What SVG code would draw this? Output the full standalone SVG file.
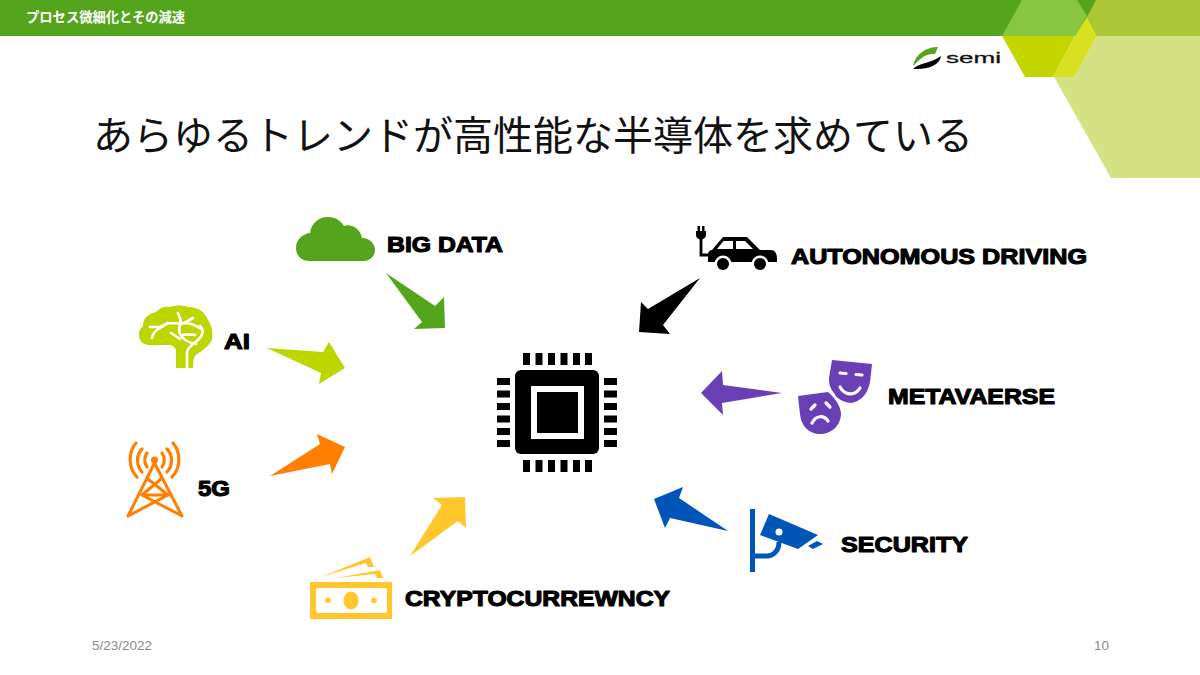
<svg xmlns="http://www.w3.org/2000/svg" width="1200" height="675" viewBox="0 0 1200 675">
<style>
.lab{font-family:"Liberation Sans",Arial,sans-serif;font-weight:700;font-size:21.500px;fill:#000;stroke:#000;stroke-width:1.1px;stroke-linejoin:round}
.foot{font-family:"Liberation Sans",Arial,sans-serif;font-size:13.5px;fill:#8a8a8a}
.pin{fill:#000}
.wl{fill:none;stroke:#fff;stroke-linecap:round;stroke-linejoin:round}
</style>
<rect width="1200" height="675" fill="#fff"/>
<g id="banner">
<rect width="1200" height="36" fill="#55a51c"/>
<polygon points="1022,0 1077,0 1087,16 1075,36 1002,36" fill="#88c540"/>
<polygon points="1096,0 1200,0 1200,36 1097,36 1087,17" fill="#abc736"/>
<polygon points="1097,36 1200,36 1200,178 1111,178 1054,77 1074,77" fill="#d4e284"/>
<polygon points="1002,36 1075,36 1053,77 1025,77" fill="#c4d600"/>
<polygon points="1087,17 1097,36 1074,77 1053,77 1075,36" fill="#d9e021"/>
<text x="26" y="22" font-family="'Noto Sans CJK JP','Noto Sans',sans-serif" font-size="13.3" font-weight="700" fill="#fff">プロセス微細化とその減速</text>
</g>
<g id="logo">
<path d="M913,66C915,55 925,47 938,47L935,54C925,53 920,59 913,66Z" fill="#55a51c"/>
<path d="M913,69C920,62 930,64 941,56C940,64 930,70 913,69Z" fill="#000"/>
<text x="946" y="63" font-family="'Liberation Sans',Arial,sans-serif" font-size="15.500" fill="#111" stroke="#111" stroke-width=".3" textLength="55" lengthAdjust="spacingAndGlyphs">semi</text>
</g>
<text id="title" x="93" y="150" font-family="'Noto Sans CJK JP','Noto Sans',sans-serif" font-size="40" fill="#111">あらゆるトレンドが高性能な半導体を求めている</text>
<g id="connectors">
<polygon points="386,273 435,306 444,297 445,328 414,329 422,322" fill="#55a51c"/>
<polygon points="267,348 323,352 329,342 345,368 319,384 321,373" fill="#bdd600"/>
<polygon points="270,476 320,444 317,434 345,447 332,474 330,464" fill="#ff7f00"/>
<polygon points="410,556 442,505 433,498 465,497 466,528 458,521" fill="#ffc72c"/>
<polygon points="700,278 663,325 670,334 639,332 641,302 648,309" fill="#000"/>
<polygon points="782,393 723,385 722,371 701,393 723,415 722,403" fill="#6a3fb5"/>
<polygon points="728,531 679,498 683,487 654,499 665,528 670,518" fill="#0055b8"/>
</g>
<g id="chip">
<rect x="515" y="370" width="84" height="84" rx="6" fill="#000"/>
<rect x="531" y="386" width="53" height="53" fill="#fff"/>
<rect x="537" y="392" width="41" height="41" fill="#000"/>
<g class="pin">
<rect x="523" y="353" width="7" height="12"/><rect x="535.5" y="353" width="7" height="12"/><rect x="548" y="353" width="7" height="12"/><rect x="560.5" y="353" width="7" height="12"/><rect x="573" y="353" width="7" height="12"/><rect x="585" y="353" width="7" height="12"/>
<rect x="523" y="460" width="7" height="12"/><rect x="535.5" y="460" width="7" height="12"/><rect x="548" y="460" width="7" height="12"/><rect x="560.5" y="460" width="7" height="12"/><rect x="573" y="460" width="7" height="12"/><rect x="585" y="460" width="7" height="12"/>
<rect x="497" y="378" width="13" height="7"/><rect x="497" y="390.500" width="13" height="7"/><rect x="497" y="403" width="13" height="7"/><rect x="497" y="415.500" width="13" height="7"/><rect x="497" y="428" width="13" height="7"/><rect x="497" y="440" width="13" height="7"/>
<rect x="604" y="378" width="13" height="7"/><rect x="604" y="390.500" width="13" height="7"/><rect x="604" y="403" width="13" height="7"/><rect x="604" y="415.500" width="13" height="7"/><rect x="604" y="428" width="13" height="7"/><rect x="604" y="440" width="13" height="7"/>
</g>
</g>
<g id="bigdata">
<path d="M309,261C301,261 296,255 296,248C296,240 302,234 310,233C311,224 318,217 328,217C336,217 341,221 344,226C352,223 361,230 362,238C370,238 375,244 375,250C375,256 370,261 364,261Z" fill="#55a51c"/>
<text class="lab" x="387" y="252" textLength="116" lengthAdjust="spacingAndGlyphs">BIG DATA</text>
</g>
<g id="ai">
<path d="M176,368V350C175,347 172,345 169,345H150C143,345 139,341 139,335C139,330 141,328 143,326C143,318 148,314 156,312C160,307 166,306 170,307C176,305 183,305 188,307C198,307 205,312 208,320C212,326 213,332 212,340C208,347 202,351 197,354C194,356 193,360 193,368Z" fill="#bdd600"/>
<path class="wl" stroke-width="2.700" d="M187,368V353C187,347 195,343 198,340C203,335 204,330 200,326M152,338C153,333 155,331 158,329L168,323M150,327L160,327L168,323C174,323 179,324 184,323L193,318M178,313C180,317 181,320 181,324C178,328 179,331 180,334C183,340 190,343 196,344M171,333L180,339M184,323C190,323 195,325 200,328M182,335C186,334 190,334 195,335"/>
<text class="lab" x="224" y="349" textLength="26" lengthAdjust="spacingAndGlyphs">AI</text>
</g>
<g id="fiveg">
<g fill="none" stroke="#ff7f00" stroke-width="3" stroke-linecap="round" stroke-linejoin="round">
<path d="M128,516L154.500,463L182,516M148,479L168,495L128,516M161,479L142,495L182,516M142,495H168"/>
<path d="M136,443C128,452 128,468 137,477M173,443C181,452 181,468 172,477M142,449C136,455 136,465 142,472M167,449C173,455 173,465 167,472M147,453C144,457 144,463 147,467M162,453C165,457 165,463 162,467" stroke-width="3.200"/>
</g>
<circle cx="154.500" cy="460" r="3.500" fill="#ff7f00"/>
<text class="lab" x="198" y="496" textLength="32" lengthAdjust="spacingAndGlyphs">5G</text>
</g>
<g id="crypto">
<rect x="310" y="582" width="82" height="37" fill="#ffc72c"/>
<rect x="316" y="588" width="71" height="25" rx="2" fill="#fff"/>
<ellipse cx="351" cy="600.500" rx="7.500" ry="9" fill="#ffc72c"/>
<circle cx="328" cy="600.500" r="2.800" fill="#ffc72c"/><circle cx="374" cy="600.500" r="2.800" fill="#ffc72c"/>
<path d="M321,577L370,557L374,567L368,567L366,563Z" fill="#ffc72c"/>
<path d="M336,578L380,570L383,578L377,578L375,574Z" fill="#ffc72c"/>
<text class="lab" x="405" y="606" textLength="265" lengthAdjust="spacingAndGlyphs">CRYPTOCURREWNCY</text>
</g>
<g id="autonomous">
<path d="M708,262V254C708,252 710,250 712,250L723,237H747L760,250H771C775,250 777,254 777,258V262Z" fill="#000"/>
<path d="M717,249L723.500,241H733V249ZM736,241H745L753,249H736Z" fill="#fff"/>
<circle cx="723" cy="264" r="8.500" fill="#fff"/><circle cx="760" cy="264" r="8.500" fill="#fff"/>
<circle cx="723" cy="264" r="6" fill="#000"/><circle cx="760" cy="264" r="6" fill="#000"/>
<path d="M701,236V255H709" fill="none" stroke="#000" stroke-width="2.800"/>
<path d="M696,231H706V235C706,238 703,239 701,240C699,239 696,238 696,235Z" fill="#000"/>
<rect x="697.500" y="226" width="2.500" height="6" fill="#000"/><rect x="702" y="226" width="2.500" height="6" fill="#000"/>
<text class="lab" x="791" y="264" textLength="296" lengthAdjust="spacingAndGlyphs">AUTONOMOUS DRIVING</text>
</g>
<g id="metaverse">
<path d="M832,360L872,364L870,382C868,394 860,402 851,403C842,402 836,398 834,393C830,388 829,384 829,378Z" fill="#6a3fb5"/>
<path d="M798,396L828,392C835,398 840,405 841,413C841,426 831,434 820,434C809,434 801,426 800,414Z" fill="#6a3fb5"/>
<g class="wl" stroke-width="3.200">
<path d="M840,373L846,373.500M856,374.500L862,375"/>
<path d="M840,387C845,396 855,396 860,388"/>
<path d="M811,409L815,405M826,403L830,407"/>
<path d="M812,423C816,415 824,415 828,421"/>
</g>
<text class="lab" x="888" y="404" textLength="167" lengthAdjust="spacingAndGlyphs">METAVAERSE</text>
</g>
<g id="security">
<rect x="750" y="509" width="5" height="63" fill="#0055b8"/>
<path d="M753,556H767C773,556 779,551 779,542" fill="none" stroke="#0055b8" stroke-width="5"/>
<path d="M769,514L818,535L798,549L760,535Z" fill="#0055b8"/>
<circle cx="779" cy="532" r="3.500" fill="#fff"/>
<path d="M808,546L817,541L823,544L813,549Z" fill="#0055b8"/>
<text class="lab" x="841" y="552" textLength="127" lengthAdjust="spacingAndGlyphs">SECURITY</text>
</g>
<g id="footer">
<text class="foot" x="92" y="650">5/23/2022</text>
<text class="foot" x="1094" y="650">10</text>
</g>
</svg>
